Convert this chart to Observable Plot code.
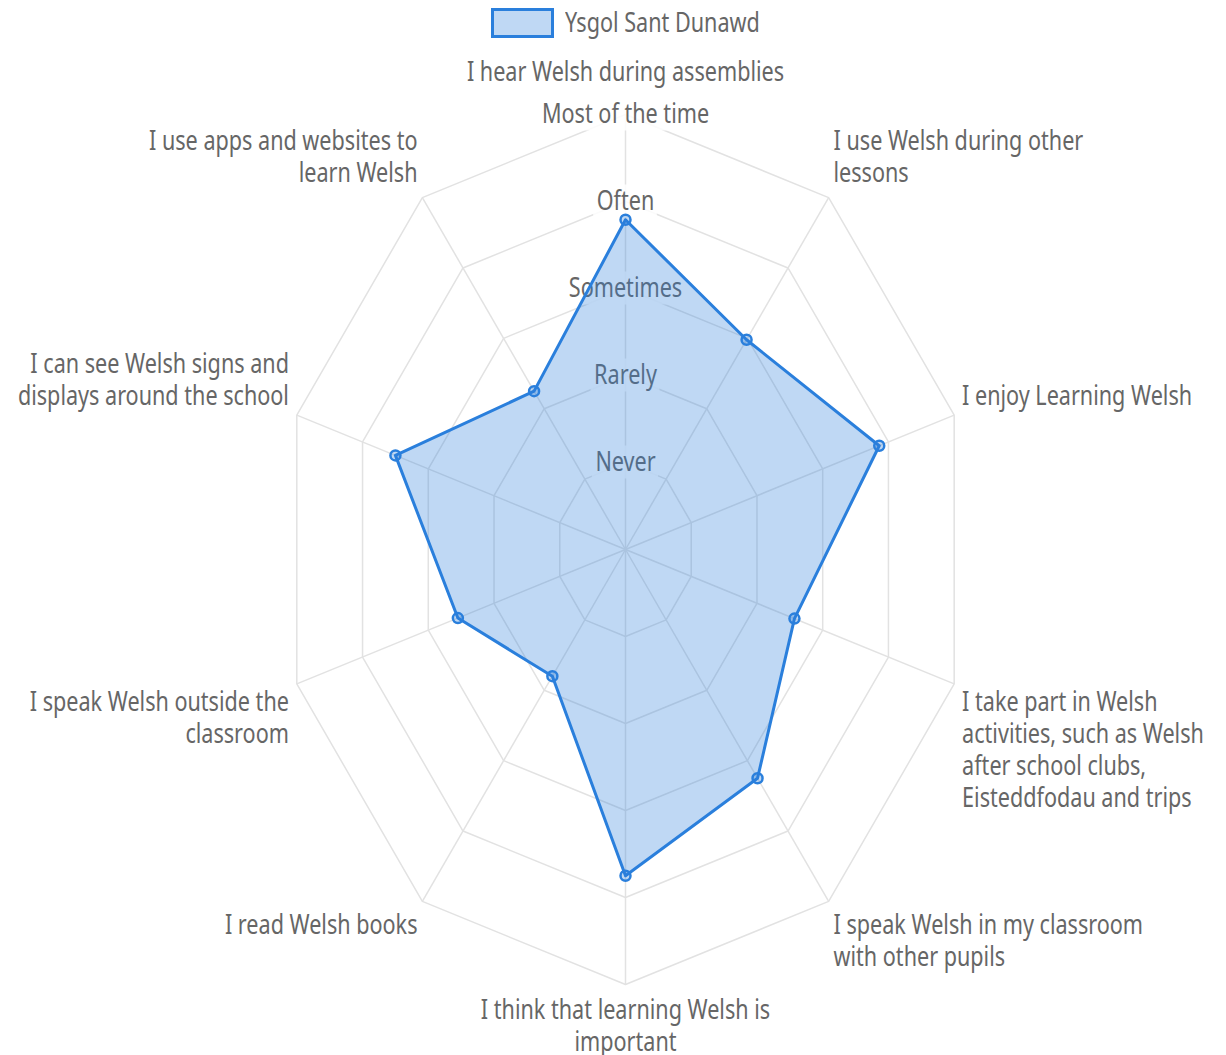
<!DOCTYPE html>
<html><head><meta charset="utf-8">
<script src="https://cdn.jsdelivr.net/npm/d3@7"></script>
<script src="https://cdn.jsdelivr.net/npm/@observablehq/plot@0.6"></script>
<style>
html,body{margin:0;padding:0;background:#fff;overflow:hidden;}
#wrap{position:relative;width:1226px;height:1055px;}
#legend{position:absolute;left:0;top:0;width:1226px;height:45px;}
.swatch{position:absolute;left:491px;top:8px;width:57px;height:24px;border:3px solid #2a7fdc;background:rgba(42,127,220,0.3);}
.ltext{position:absolute;left:565px;top:4px;font-family:'Noto Sans';font-size:27px;color:#666;transform:scaleX(0.80);transform-origin:0 50%;white-space:nowrap;line-height:36px;}
#chart{position:absolute;left:0;top:45px;}
</style>
</head><body>
<div id="wrap">
  <div id="legend"><div class="swatch"></div><div class="ltext" id="ltext"></div></div>
  <div id="chart"></div>
</div>
<script>
// ---- data ----
const seriesName = "Ysgol Sant Dunawd";
const categories = [
  ["I hear Welsh during assemblies"],
  ["I use Welsh during other", "lessons"],
  ["I enjoy Learning Welsh"],
  ["I take part in Welsh", "activities, such as Welsh", "after school clubs,", "Eisteddfodau and trips"],
  ["I speak Welsh in my classroom", "with other pupils"],
  ["I think that learning Welsh is", "important"],
  ["I read Welsh books"],
  ["I speak Welsh outside the", "classroom"],
  ["I can see Welsh signs and", "displays around the school"],
  ["I use apps and websites to", "learn Welsh"]
];
const values = [3.79, 2.98, 3.86, 2.57, 3.25, 3.75, 1.80, 2.55, 3.50, 2.25];
const tickLabels = ["Never", "Rarely", "Sometimes", "Often", "Most of the time"];
const tickValues = [1, 2, 3, 4, 5];

// ---- layout ----
const W = 1226, H = 1010;
const cx = 625, cy = 504, rx = 345.6, ry = 435;
const maxV = 5;
const squeeze = 0.80;
const fontSize = 27;
const textColor = "#666";
const blue = "#2a7fdc";
const gridColor = "#e2e2e2";

document.getElementById("ltext").textContent = seriesName;

const N = categories.length;
const ang = i => i * 2 * Math.PI / N;
const polar = (v, i) => ({x: v * Math.sin(ang(i)), y: v * Math.cos(ang(i))});

const rings = tickValues.flatMap(v => d3.range(N).map(i => ({...polar(v, i), ring: v})));
const spokes = d3.range(N).map(i => ({x1: 0, y1: 0, x2: polar(maxV, i).x, y2: polar(maxV, i).y}));
const pts = values.map((v, i) => ({...polar(v, i), v, cat: categories[i].join(" ")}));

// backdrop sizes from measured text width
const ctx = document.createElement("canvas").getContext("2d");
ctx.font = `${fontSize}px 'Noto Sans'`;
const ux = rx / maxV, uy = ry / maxV;
const backdrops = tickValues.map((v, k) => {
  const hw = (ctx.measureText(tickLabels[k]).width * squeeze / 2 + 3) / ux;
  const hh = 16.5 / uy;
  return {x1: -hw, x2: hw, y1: v - hh, y2: v + hh};
});
const ticks = tickValues.map((v, k) => ({x: 0, y: v, label: tickLabels[k]}));

const labR = maxV + 0.12;
const labels = categories.map((c, i) => ({...polar(labR, i), text: c.join("\n"), i}));
const groups = [
  {f: d => d.i === 0, textAnchor: "middle", lineAnchor: "bottom", dy: -23},
  {f: d => d.i === 5, textAnchor: "middle", lineAnchor: "top", dy: 1},
  {f: d => d.i === 1 || d.i === 2, textAnchor: "start", lineAnchor: "bottom", dy: -7},
  {f: d => d.i === 3 || d.i === 4, textAnchor: "start", lineAnchor: "top", dy: 1},
  {f: d => d.i === 6 || d.i === 7, textAnchor: "end", lineAnchor: "top", dy: 1},
  {f: d => d.i === 8 || d.i === 9, textAnchor: "end", lineAnchor: "bottom", dy: -7}
];

const chart = Plot.plot({
  width: W, height: H, margin: 0,
  style: {fontFamily: "'Noto Sans'", background: "white", overflow: "visible"},
  x: {domain: [-maxV, maxV], range: [cx - rx, cx + rx], axis: null},
  y: {domain: [-maxV, maxV], range: [cy + ry, cy - ry], axis: null},
  marks: [
    Plot.line(rings, {x: "x", y: "y", z: "ring", curve: "linear-closed", stroke: gridColor, strokeWidth: 1.5}),
    Plot.link(spokes, {x1: "x1", y1: "y1", x2: "x2", y2: "y2", stroke: gridColor, strokeWidth: 1.5}),
    Plot.rect(backdrops, {x1: "x1", x2: "x2", y1: "y1", y2: "y2", fill: "white", fillOpacity: 0.85}),
    Plot.text(ticks, {x: "x", y: "y", text: "label", fontSize, fill: textColor}),
    Plot.line(pts, {x: "x", y: "y", curve: "linear-closed", fill: blue, fillOpacity: 0.3, stroke: blue, strokeWidth: 3}),
    Plot.dot(pts, {x: "x", y: "y", r: 5, stroke: blue, strokeWidth: 2.5, fill: blue, fillOpacity: 0.3, title: d => `${d.cat}: ${d.v}`}),
    ...groups.map(g => Plot.text(labels.filter(g.f), {
      x: "x", y: "y", text: "text", fontSize, fill: textColor,
      textAnchor: g.textAnchor, lineAnchor: g.lineAnchor, lineHeight: 32 / fontSize, dy: g.dy
    }))
  ]
});

// horizontally condense the text glyphs to match the reference's aspect
chart.querySelectorAll("text").forEach(t => {
  const tr = t.getAttribute("transform") || "";
  t.setAttribute("transform", `${tr} scale(${squeeze},1)`);
});

document.getElementById("chart").appendChild(chart);
</script>
</body></html>
